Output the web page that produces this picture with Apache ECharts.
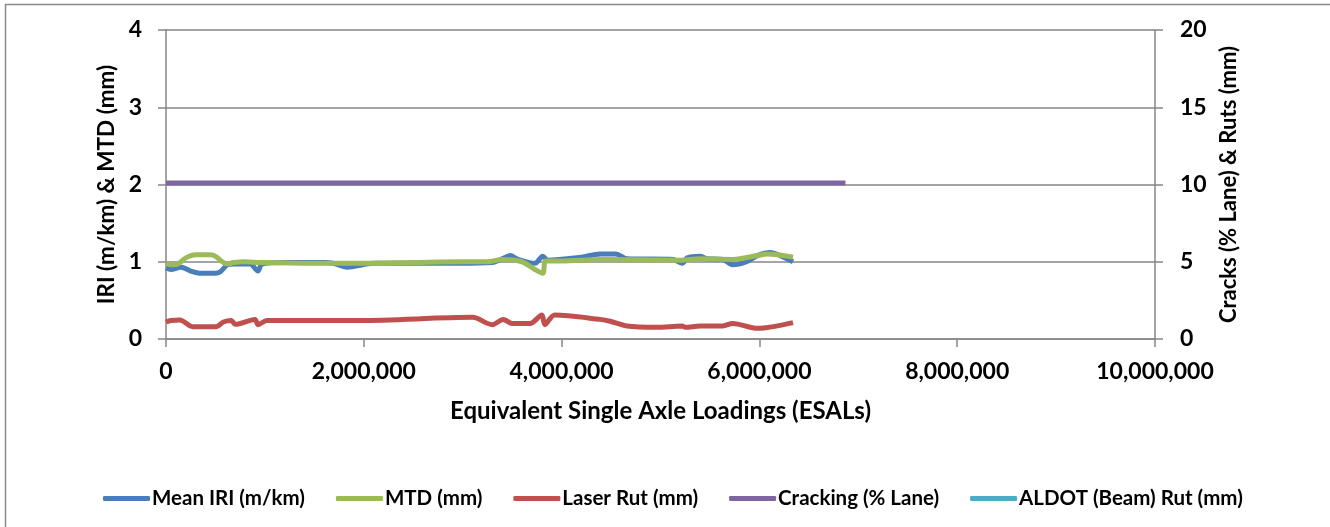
<!DOCTYPE html>
<html>
<head>
<meta charset="utf-8">
<script src="https://cdn.jsdelivr.net/npm/echarts@6/dist/echarts.min.js"></script>
<style>
html,body{margin:0;padding:0;background:#fff;}
#chart{width:1330px;height:527px;}
</style>
</head>
<body>
<div id="chart"></div>
<script>
// ESAL values (x) and readings
const seriesNames = ['Mean IRI (m/km)', 'MTD (mm)', 'Laser Rut (mm)', 'Cracking (% Lane)', 'ALDOT (Beam) Rut (mm)'];
const xTicks = [0, 2000000, 4000000, 6000000, 8000000, 10000000];
const leftTicks = [0, 1, 2, 3, 4];
const rightTicks = [0, 5, 10, 15, 20];

const iriESAL = [0, 50000, 150000, 250000, 350000, 500000, 550000, 620000, 680000, 850000, 930000, 970000, 1200000, 1600000, 1690000, 1830000, 2100000, 2500000, 2970000, 3300000, 3420000, 3480000, 3560000, 3730000, 3810000, 3860000, 4200000, 4390000, 4550000, 4660000, 5130000, 5220000, 5270000, 5400000, 5470000, 5630000, 5730000, 5870000, 5980000, 6110000, 6210000, 6340000];
const iriVal  = [0.92, 0.90, 0.93, 0.88, 0.85, 0.85, 0.87, 0.96, 0.97, 0.97, 0.88, 0.97, 0.99, 0.99, 0.98, 0.93, 0.98, 0.98, 0.98, 0.99, 1.05, 1.08, 1.03, 0.98, 1.07, 1.02, 1.06, 1.10, 1.10, 1.04, 1.03, 0.98, 1.05, 1.07, 1.04, 1.03, 0.96, 1.00, 1.08, 1.12, 1.08, 1.00];

const mtdESAL = [0, 50000, 120000, 200000, 300000, 450000, 500000, 580000, 620000, 680000, 800000, 950000, 1500000, 2000000, 2500000, 3000000, 3250000, 3400000, 3600000, 3730000, 3810000, 3840000, 4000000, 4390000, 5200000, 5400000, 5730000, 5980000, 6080000, 6340000];
const mtdVal  = [0.98, 0.96, 0.97, 1.05, 1.09, 1.09, 1.07, 0.99, 0.97, 0.99, 1.00, 0.99, 0.98, 0.98, 0.99, 1.00, 1.00, 1.03, 1.00, 0.90, 0.85, 1.01, 1.01, 1.03, 1.02, 1.04, 1.03, 1.08, 1.10, 1.06];

const rutESAL = [0, 50000, 140000, 270000, 510000, 580000, 660000, 700000, 900000, 930000, 1020000, 1960000, 3100000, 3300000, 3410000, 3500000, 3680000, 3800000, 3830000, 3930000, 4390000, 4490000, 4660000, 4960000, 5220000, 5250000, 5400000, 5630000, 5730000, 5980000, 6340000];
const rutVal  = [1.10, 1.20, 1.23, 0.80, 0.80, 1.10, 1.20, 0.95, 1.27, 0.93, 1.20, 1.20, 1.40, 0.93, 1.27, 1.00, 1.00, 1.55, 0.93, 1.55, 1.27, 1.15, 0.84, 0.76, 0.84, 0.76, 0.84, 0.84, 1.01, 0.69, 1.06];

const crackESAL = [0, 6870000];
const crackVal  = [10.1, 10.1];

const beamESAL = [];
const beamVal  = [];

const colors = ['#4A7EBB', '#9BBB59', '#C0504D', '#8064A2', '#4BACC6'];

function pairs(xs, ys) { return xs.map((x, i) => [x, ys[i]]); }

const FONT = 'Lato';
const gridColor = '#868686';

const chart = echarts.init(document.getElementById('chart'));
chart.setOption({
  animation: false,
  backgroundColor: '#fff',
  textStyle: { fontFamily: FONT },
  graphic: [
    { type: 'polyline', shape: { points: [[5.5, 527], [5.5, 4.5], [1330, 4.5]] }, style: { stroke: '#8a8a8a', lineWidth: 1.5, fill: null } }
  ],
  grid: { left: 166, right: 175, top: 30, bottom: 188 },
  legend: {
    left: 98, top: 483,
    icon: 'roundRect', itemWidth: 47, itemHeight: 5, itemGap: 31,
    textStyle: { fontFamily: FONT, fontWeight: 'bold', fontSize: 20.5, color: '#000', padding: [0, 0, 0, -3] },
    data: seriesNames
  },
  xAxis: {
    type: 'value', min: xTicks[0], max: xTicks[xTicks.length - 1], interval: xTicks[1] - xTicks[0],
    name: 'Equivalent Single Axle Loadings (ESALs)', nameLocation: 'middle', nameGap: 60,
    nameTextStyle: { fontFamily: FONT, fontWeight: 'bold', fontSize: 24, color: '#000' },
    axisLine: { lineStyle: { color: gridColor, width: 1.5 } },
    axisTick: { show: true, length: 8, lineStyle: { color: gridColor, width: 1.5 } },
    splitLine: { show: false },
    axisLabel: { margin: 21, fontFamily: FONT, fontWeight: 'bold', fontSize: 23, color: '#000',
      formatter: v => v.toLocaleString('en-US') }
  },
  yAxis: [
    {
      type: 'value', min: leftTicks[0], max: leftTicks[leftTicks.length - 1], interval: 1,
      name: 'IRI (m/km) & MTD (mm)', nameLocation: 'middle', nameGap: 44, nameRotate: 90,
      nameTextStyle: { fontFamily: FONT, fontWeight: 'bold', fontSize: 22.5, color: '#000' },
      axisLine: { show: true, lineStyle: { color: gridColor, width: 1.5 } },
      axisTick: { show: true, length: 8, lineStyle: { color: gridColor, width: 1.5 } },
      splitLine: { show: true, lineStyle: { color: gridColor, width: 1.5 } },
      axisLabel: { margin: 24, fontFamily: FONT, fontWeight: 'bold', fontSize: 23, color: '#000' }
    },
    {
      type: 'value', min: rightTicks[0], max: rightTicks[rightTicks.length - 1], interval: 5, position: 'right',
      name: 'Cracks (% Lane) & Ruts (mm)', nameLocation: 'middle', nameGap: 62, nameRotate: 90,
      nameTextStyle: { fontFamily: FONT, fontWeight: 'bold', fontSize: 22, color: '#000' },
      axisLine: { show: true, lineStyle: { color: gridColor, width: 1.5 } },
      axisTick: { show: true, length: 8, lineStyle: { color: gridColor, width: 1.5 } },
      splitLine: { show: false },
      axisLabel: { margin: 25, fontFamily: FONT, fontWeight: 'bold', fontSize: 23, color: '#000' }
    }
  ],
  series: [
    { name: seriesNames[0], type: 'line', yAxisIndex: 0, data: pairs(iriESAL, iriVal), smooth: 0.3, symbol: 'none', lineStyle: { width: 5, color: colors[0] }, itemStyle: { color: colors[0] }, z: 3 },
    { name: seriesNames[1], type: 'line', yAxisIndex: 0, data: pairs(mtdESAL, mtdVal), smooth: 0.3, symbol: 'none', lineStyle: { width: 5, color: colors[1] }, itemStyle: { color: colors[1] }, z: 4 },
    { name: seriesNames[2], type: 'line', yAxisIndex: 1, data: pairs(rutESAL, rutVal), smooth: 0.3, symbol: 'none', lineStyle: { width: 5, color: colors[2] }, itemStyle: { color: colors[2] }, z: 5 },
    { name: seriesNames[3], type: 'line', yAxisIndex: 1, data: pairs(crackESAL, crackVal), symbol: 'none', lineStyle: { width: 5, color: colors[3] }, itemStyle: { color: colors[3] }, z: 6 },
    { name: seriesNames[4], type: 'line', yAxisIndex: 1, data: pairs(beamESAL, beamVal), symbol: 'none', lineStyle: { width: 5, color: colors[4] }, itemStyle: { color: colors[4] }, z: 7 }
  ]
});
</script>
</body>
</html>
